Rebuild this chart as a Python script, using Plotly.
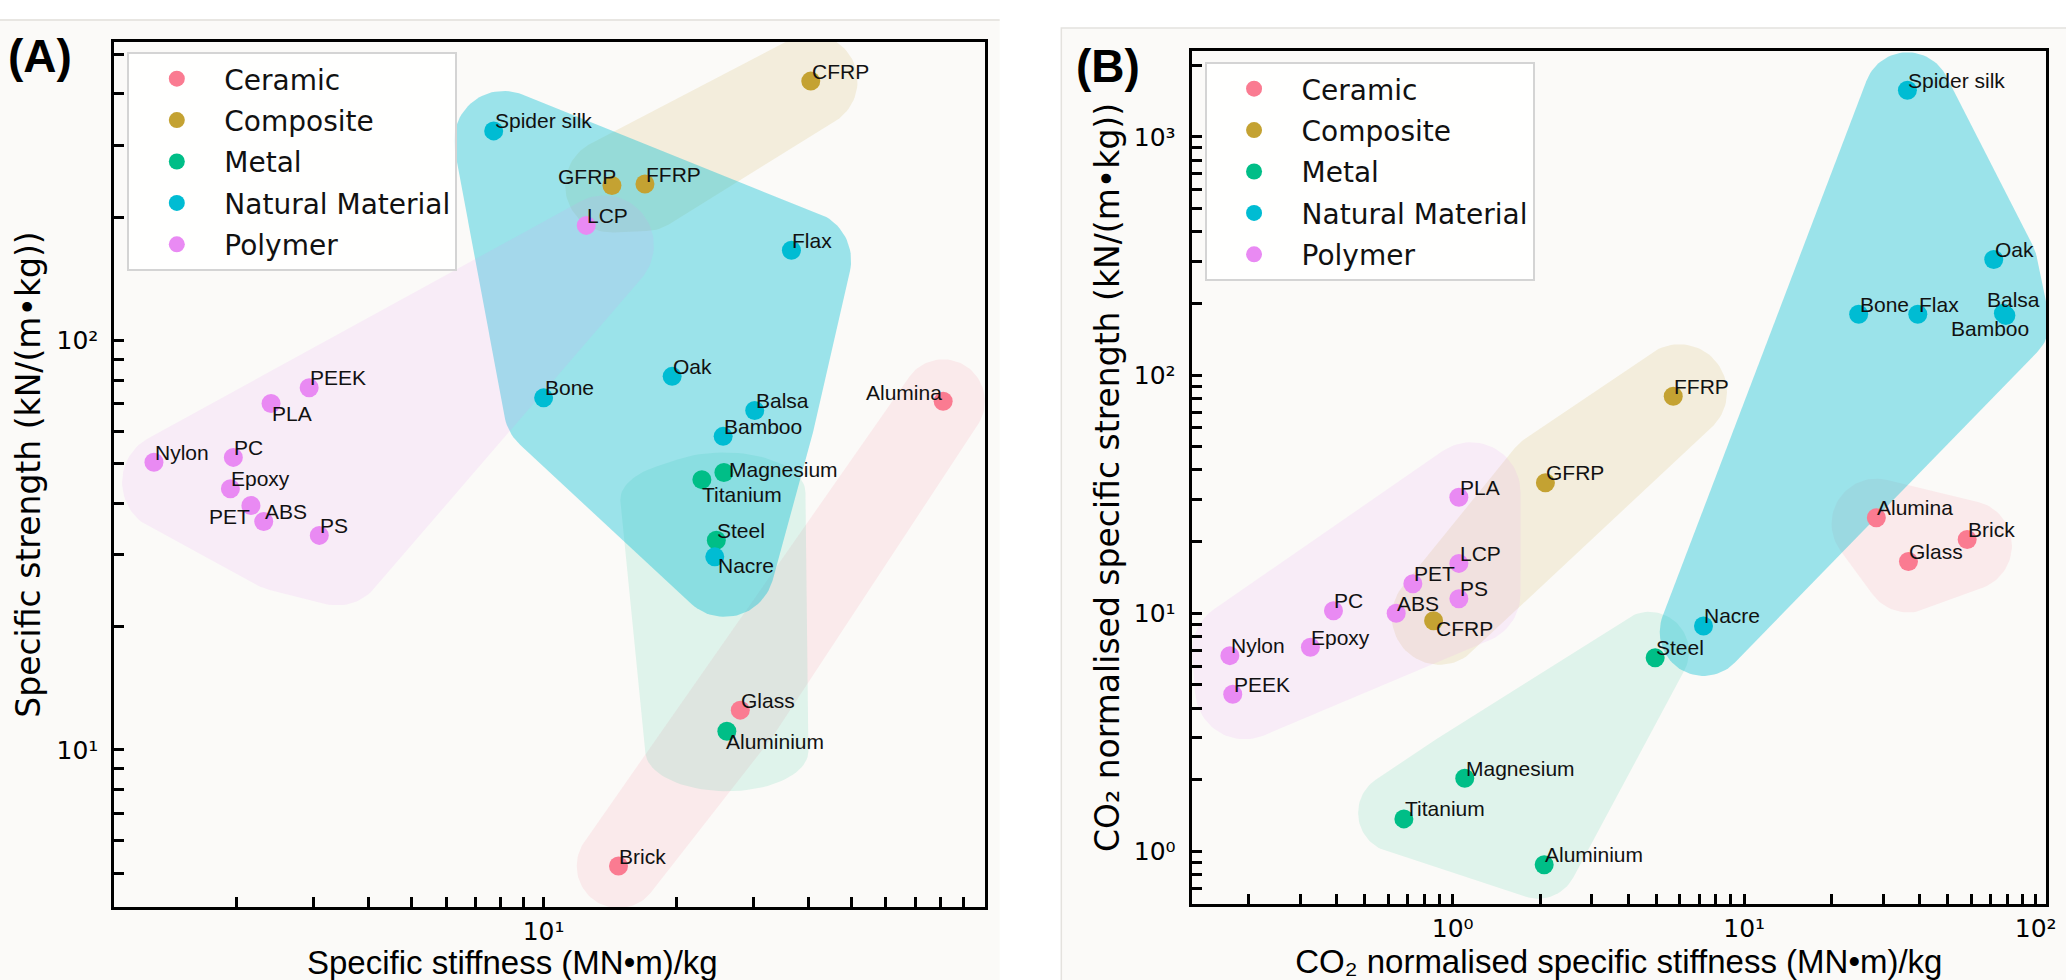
import numpy as np
import plotly.graph_objects as go

# ---------------- data ----------------
CATEGORIES = ["Ceramic", "Composite", "Metal", "Natural Material", "Polymer"]

# Panel A: specific stiffness (MN·m/kg) vs specific strength (kN/(m·kg))
a_names = ["Alumina", "Glass", "Brick",
           "CFRP", "GFRP", "FFRP",
           "Magnesium", "Titanium", "Steel", "Aluminium",
           "Spider silk", "Flax", "Oak", "Bone", "Balsa", "Bamboo", "Nacre",
           "LCP", "PEEK", "PLA", "Nylon", "PC", "Epoxy", "PET", "ABS", "PS"]
a_category = ["Ceramic"] * 3 + ["Composite"] * 3 + ["Metal"] * 4 + \
             ["Natural Material"] * 7 + ["Polymer"] * 9
a_stiffness = [81.0, 28.0, 14.8,
               40.5, 14.3, 17.0,
               25.7, 22.9, 24.7, 26.1,
               7.7, 36.6, 19.6, 10.0, 30.2, 25.6, 24.5,
               12.5, 2.93, 2.40, 1.30, 1.97, 1.94, 2.16, 2.31, 3.09]
a_strength = [71.0, 12.5, 5.2,
              430.0, 239.0, 241.0,
              47.6, 45.7, 32.5, 11.1,
              325.0, 166.0, 81.7, 72.4, 67.4, 58.3, 29.6,
              191.0, 76.6, 70.1, 50.4, 51.8, 43.4, 39.5, 36.1, 33.4]

# Panel B: CO2-normalised values
b_names = ["Alumina", "Brick", "Glass",
           "FFRP", "GFRP", "CFRP",
           "Steel", "Magnesium", "Titanium", "Aluminium",
           "Spider silk", "Oak", "Bone", "Flax", "Balsa", "Bamboo", "Nacre",
           "PLA", "LCP", "PET", "PS", "PC", "ABS", "Epoxy", "Nylon", "PEEK"]
b_category = ["Ceramic"] * 3 + ["Composite"] * 3 + ["Metal"] * 4 + \
             ["Natural Material"] * 7 + ["Polymer"] * 9
b_stiffness = [28.4, 58.2, 36.6,
               5.71, 2.08, 0.86,
               4.95, 1.10, 0.68, 2.06,
               36.3, 71.8, 24.7, 39.4, 77.5, 79.0, 7.25,
               1.05, 1.05, 0.73, 1.05, 0.39, 0.64, 0.325, 0.172, 0.176]
b_strength = [25.2, 20.4, 16.5,
              81.6, 35.3, 9.3,
              6.5, 2.03, 1.37, 0.88,
              1570.0, 306.0, 180.0, 180.0, 182.0, 178.0, 8.85,
              30.7, 16.2, 13.3, 11.5, 10.25, 10.0, 7.2, 6.64, 4.57]

# ticks: major (labelled) and minor (unlabelled)
a_xtick_major = [10]
a_xtick_minor = [2, 3, 4, 5, 6, 7, 8, 9, 20, 30, 40, 50, 60, 70, 80, 90]
a_ytick_major = [10, 100]
a_ytick_minor = [5, 6, 7, 8, 9, 20, 30, 40, 50, 60, 70, 80, 90, 200, 300, 400, 500]
b_xtick_major = [1, 10, 100]
b_xtick_minor = [0.2, 0.3, 0.4, 0.5, 0.6, 0.7, 0.8, 0.9, 2, 3, 4, 5, 6, 7, 8, 9,
                 20, 30, 40, 50, 60, 70, 80, 90]
b_ytick_major = [1, 10, 100, 1000]
b_ytick_minor = [0.7, 0.8, 0.9, 2, 3, 4, 5, 6, 7, 8, 9, 20, 30, 40, 50, 60, 70, 80, 90,
                 200, 300, 400, 500, 600, 700, 800, 900, 2000]
major_labels = {1: "10\u2070", 10: "10\u00b9", 100: "10\u00b2", 1000: "10\u00b3"}

a_xtitle = "Specific stiffness (MN\u2022m)/kg"
a_ytitle = "Specific strength (kN/(m\u2022kg))"
b_xtitle = "CO\u2082 normalised specific stiffness (MN\u2022m)/kg"
b_ytitle = "CO\u2082 normalised specific strength (kN/(m\u2022kg))"

# ---------------- style ----------------
W, H = 2066, 980
COLORS = {"Ceramic": "#fa7b91", "Composite": "#c4a232", "Metal": "#00be87",
          "Natural Material": "#00bcd3", "Polymer": "#e98af3"}
FILL_ALPHA = {"Ceramic": 0.12, "Composite": 0.14, "Metal": 0.11,
              "Natural Material": 0.38, "Polymer": 0.12}

PANELS = {
    "A": dict(left=115, right=990, top=42, bottom=907, xr=(0.024, 2.003), yr=(0.616, 2.729),
              xa="x", ya="y"),
    "B": dict(left=1198, right=2057, top=51, bottom=904, xr=(-0.8956, 2.0355), yr=(-0.2207, 3.361),
              xa="x2", ya="y2"),
}
# blob padding (rx, ry, shift_x, shift_y) in pixels
BLOB_STYLE = {
    "A": {"Ceramic": (42, 42, 0, 0), "Composite": (47, 47, 0, 0), "Metal": (82, 40, 0, 20),
          "Natural Material": (50, 50, 10, 10), "Polymer": (50, 50, 18, 20)},
    "B": {"Ceramic": (45, 45, 0, 6), "Composite": (48, 48, 6, -4), "Metal": (40, 40, -6, -6),
          "Natural Material": (44, 44, 0, 6), "Polymer": (50, 50, 12, -5)},
}
# label placement: (anchor, dx, dy) in px, dy = baseline offset below the point
LABEL_POS = {
    "A": {"GFRP": ("right", 5, -1), "Alumina": ("right", 0, -1), "PET": ("right", 0, 19),
          "PLA": ("left", 0, 18), "Titanium": ("left", -1, 23), "Nacre": ("left", 2, 17),
          "Aluminium": ("left", -2, 18), "Magnesium": ("left", 4, 5)},
    "B": {"Balsa": ("left", -17, -6), "Bamboo": ("left", -56, 21), "CFRP": ("left", 1, 16)},
}
DEFAULT_LABEL = ("left", 0, -2)


def rgba(hexc, a):
    h = hexc.lstrip("#")
    return "rgba(%d,%d,%d,%.3f)" % (int(h[0:2], 16), int(h[2:4], 16), int(h[4:6], 16), a)


def to_px(p, x, y):
    g = PANELS[p]
    lx, ly = np.log10(np.asarray(x, float)), np.log10(np.asarray(y, float))
    px = g["left"] + (lx - g["xr"][0]) / (g["xr"][1] - g["xr"][0]) * (g["right"] - g["left"])
    py = g["bottom"] - (ly - g["yr"][0]) / (g["yr"][1] - g["yr"][0]) * (g["bottom"] - g["top"])
    return px, py


def from_px(p, px, py):
    g = PANELS[p]
    lx = g["xr"][0] + (np.asarray(px) - g["left"]) / (g["right"] - g["left"]) * (g["xr"][1] - g["xr"][0])
    ly = g["yr"][0] + (g["bottom"] - np.asarray(py)) / (g["bottom"] - g["top"]) * (g["yr"][1] - g["yr"][0])
    return 10 ** lx, 10 ** ly


def convex_hull(points):
    pts = sorted(set(points))
    if len(pts) <= 2:
        return pts

    def cross(o, a, b):
        return (a[0] - o[0]) * (b[1] - o[1]) - (a[1] - o[1]) * (b[0] - o[0])
    lower, upper = [], []
    for q in pts:
        while len(lower) >= 2 and cross(lower[-2], lower[-1], q) <= 0:
            lower.pop()
        lower.append(q)
    for q in reversed(pts):
        while len(upper) >= 2 and cross(upper[-2], upper[-1], q) <= 0:
            upper.pop()
        upper.append(q)
    return lower[:-1] + upper[:-1]


def blob(p, xs, ys, rx, ry, dx, dy, n=90):
    px, py = to_px(p, xs, ys)
    t = np.linspace(0, 2 * np.pi, n, endpoint=False)
    cx = (px[:, None] + dx + rx * np.cos(t)[None, :]).ravel()
    cy = (py[:, None] + dy + ry * np.sin(t)[None, :]).ravel()
    hull = convex_hull([(round(a, 3), round(b, 3)) for a, b in zip(cx, cy)])
    hx = [h[0] for h in hull] + [hull[0][0]]
    hy = [h[1] for h in hull] + [hull[0][1]]
    return from_px(p, hx, hy)


fig = go.Figure()
annotations = []
panel_data = {
    "A": (a_names, a_category, a_stiffness, a_strength, "legend"),
    "B": (b_names, b_category, b_stiffness, b_strength, "legend2"),
}

# blobs
for p, (names, cats, xs, ys, leg) in panel_data.items():
    g = PANELS[p]
    for cat in CATEGORIES:
        idx = [i for i, c in enumerate(cats) if c == cat]
        rx, ry, dx, dy = BLOB_STYLE[p][cat]
        bx, by = blob(p, [xs[i] for i in idx], [ys[i] for i in idx], rx, ry, dx, dy)
        fig.add_trace(go.Scatter(x=bx, y=by, mode="lines", fill="toself",
                                 fillcolor=rgba(COLORS[cat], FILL_ALPHA[cat]),
                                 line=dict(width=0), hoverinfo="skip", showlegend=False,
                                 xaxis=g["xa"], yaxis=g["ya"]))

# points + labels
for p, (names, cats, xs, ys, leg) in panel_data.items():
    g = PANELS[p]
    for cat in CATEGORIES:
        idx = [i for i, c in enumerate(cats) if c == cat]
        fig.add_trace(go.Scatter(x=[xs[i] for i in idx], y=[ys[i] for i in idx],
                                 hovertext=[names[i] for i in idx], mode="markers", name=cat,
                                 marker=dict(size=19, color=COLORS[cat], line=dict(width=0)),
                                 legend=leg, legendgroup=p + cat,
                                 xaxis=g["xa"], yaxis=g["ya"]))
    for name, x, y in zip(names, xs, ys):
        anchor, dxl, dyl = LABEL_POS[p].get(name, DEFAULT_LABEL)
        annotations.append(dict(x=np.log10(x), y=np.log10(y), xref=g["xa"], yref=g["ya"],
                                text=name, showarrow=False, xanchor=anchor, yanchor="bottom",
                                xshift=dxl, yshift=-4.5 - dyl, borderpad=0,
                                font=dict(family="Liberation Sans, Arial", size=21, color="#111")))

# panel letters and A x-title
annotations.append(dict(x=6 / W, y=1 - 28 / H, xref="paper", yref="paper", text="<b>(A)</b>",
                        showarrow=False, xanchor="left", yanchor="top",
                        font=dict(family="Liberation Sans, Arial", size=46, color="black")))
annotations.append(dict(x=1080 / W, y=1 - 38 / H, xref="paper", yref="paper", text="<b>(B)</b>",
                        showarrow=False, xanchor="left", yanchor="top",
                        font=dict(family="Liberation Sans, Arial", size=46, color="black")))
annotations.append(dict(x=515 / W, y=1 - 942 / H, xref="paper", yref="paper", text=a_xtitle,
                        showarrow=False, xanchor="center", yanchor="top",
                        font=dict(family="Liberation Sans, Arial", size=33, color="black")))


def axis(major, minor, rng, domain, anchor):
    return dict(type="log", range=list(rng), domain=domain, anchor=anchor,
                tickmode="array", tickvals=major,
                ticktext=[major_labels[v] for v in major],
                minor=dict(tickmode="array", tickvals=minor, ticks="inside", ticklen=10,
                           tickwidth=2.5, tickcolor="black", showgrid=False),
                showline=True, linecolor="black", linewidth=3, mirror=True,
                ticks="inside", ticklen=10, tickwidth=2.5, tickcolor="black",
                showgrid=False, zeroline=False, ticklabeloverflow="allow",
                tickfont=dict(family="DejaVu Sans", size=25, color="black"))


legend_style = dict(xanchor="left", yanchor="top", bgcolor="rgba(255,255,255,0.85)",
                    bordercolor="#d4d4d4", borderwidth=2, itemwidth=85, tracegroupgap=2,
                    traceorder="grouped",
                    font=dict(family="DejaVu Sans", size=28, color="#111"))

ga, gb = PANELS["A"], PANELS["B"]
xa = axis(a_xtick_major, a_xtick_minor, ga["xr"], [ga["left"] / W, ga["right"] / W], "y")
ya = axis(a_ytick_major, a_ytick_minor, ga["yr"], [1 - ga["bottom"] / H, 1 - ga["top"] / H], "x")
ya["ticklabelstandoff"] = 8
ya["title"] = dict(text=a_ytitle, standoff=6, font=dict(family="DejaVu Sans", size=33, color="black"))
xb = axis(b_xtick_major, b_xtick_minor, gb["xr"], [gb["left"] / W, gb["right"] / W], "y2")
xb["title"] = dict(text=b_xtitle, standoff=6, font=dict(family="Liberation Sans, Arial", size=33, color="black"))
yb = axis(b_ytick_major, b_ytick_minor, gb["yr"], [1 - gb["bottom"] / H, 1 - gb["top"] / H], "x2")
yb["ticklabelstandoff"] = 8
yb["title"] = dict(text=b_ytitle, standoff=5, font=dict(family="DejaVu Sans", size=33, color="black"))

fig.update_layout(
    width=W, height=H, autosize=False, margin=dict(l=0, r=0, t=0, b=0, pad=0),
    paper_bgcolor="white", plot_bgcolor="rgba(0,0,0,0)",
    xaxis=xa, yaxis=ya, xaxis2=xb, yaxis2=yb,
    legend=dict(x=128 / W, y=1 - 52 / H, **legend_style),
    legend2=dict(x=1211 / W, y=1 - 62 / H, **legend_style),
    annotations=annotations,
    shapes=[
        dict(type="rect", xref="paper", yref="paper", x0=0, x1=1005 / W, y0=0, y1=1 - 20 / H,
             fillcolor="#fbfaf8", line=dict(width=0), layer="below"),
        dict(type="line", xref="paper", yref="paper", x0=0, x1=1005 / W, y0=1 - 20 / H, y1=1 - 20 / H,
             line=dict(color="#e8e6e2", width=2), layer="below"),
        dict(type="rect", xref="paper", yref="paper", x0=1067 / W, x1=1.01, y0=-0.01, y1=1 - 28 / H,
             fillcolor="#fbfaf8", line=dict(color="#e4e2de", width=1.5), layer="below"),
    ],
)

fig.write_html("out.html", config={"displayModeBar": False},
               post_script="document.body.style.margin='0px';document.body.style.overflow='hidden';")
